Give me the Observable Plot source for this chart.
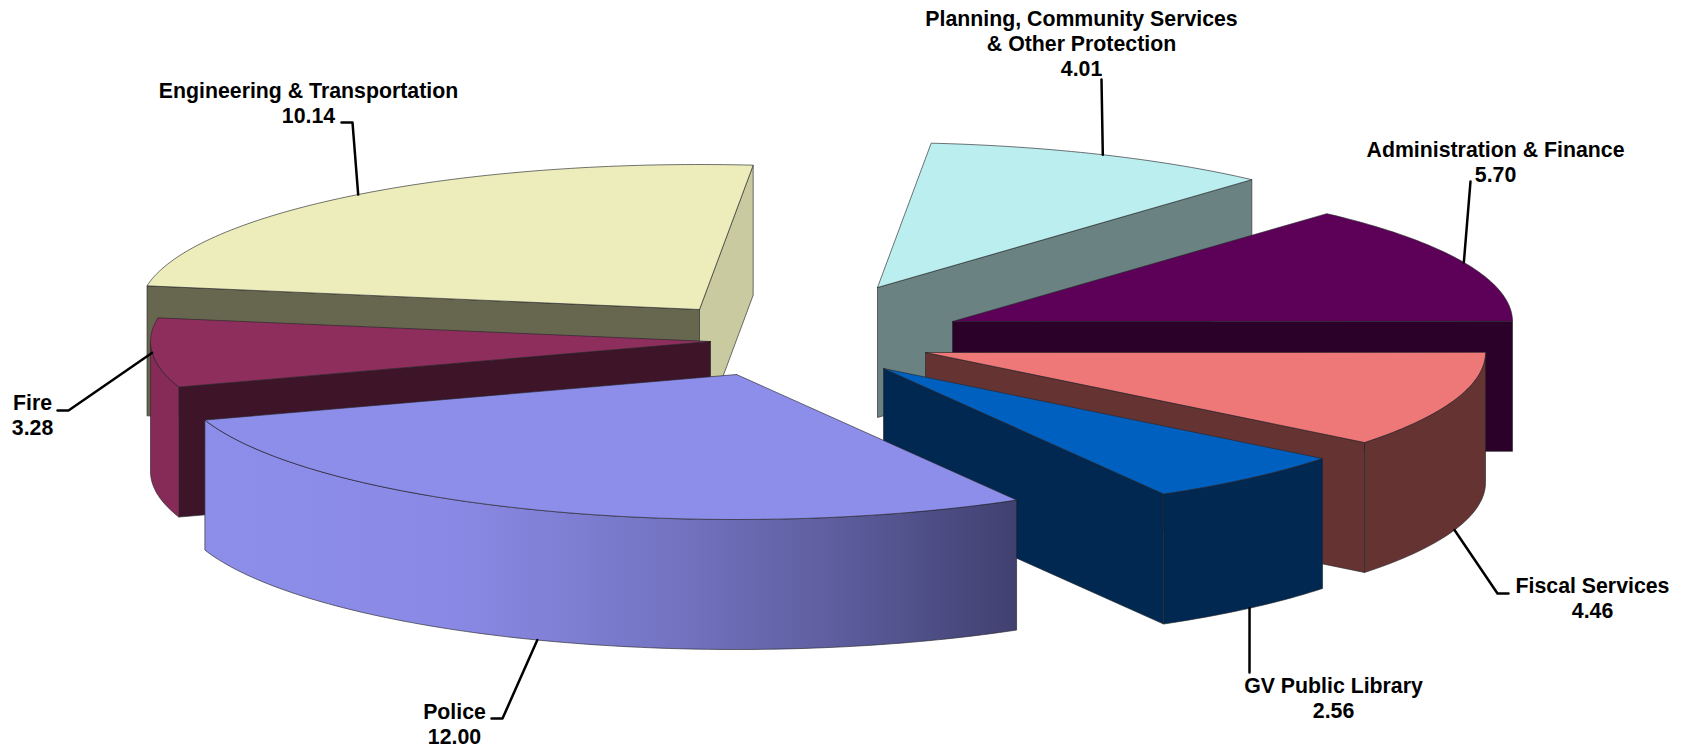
<!DOCTYPE html>
<html>
<head>
<meta charset="utf-8">
<script src="https://cdn.jsdelivr.net/npm/d3@7"></script>
<script src="https://cdn.jsdelivr.net/npm/@observablehq/plot@0.6"></script>
<style>
html,body{margin:0;padding:0;background:#fff}
svg{display:block}
</style>
</head>
<body>
<div id="chart"></div>
<script>
// ---- Data, clockwise from the top of the pie ----
const names = ["Planning, Community Services\n& Other Protection","Administration & Finance","Fiscal Services","GV Public Library","Police","Fire","Engineering & Transportation"];
const values = [4.01,5.70,4.46,2.56,12.00,3.28,10.14];

// ---- Styles ----
const topColors  = ["#bbeeee","#5c0058","#ee7777","#0060bf","#8d8dea","#8e2e5c","#ecedbb"];
const rimColors  = ["#6a8382","#2b0029","#663333","#002850","url(#policeRim)","#862b58","#676750"];
const cutColors  = ["#6a8382","#2b0029","#663333","#002850","#404070","#3e1428","#676750"];
const endColors  = ["#6a8382","#2b0029","#663333","#002850","#404070","#3e1428","#c9ca9f"];

// ---- Layout: exploded centre of every slice, pie shape, label placement ----
const centreX = [877,952,925,883,736,710,699];
const centreY = [287,321,352,368,374,341,309];
const radiusX = 560, radiusY = 145, thickness = 130, startAngle = 7;
const perspectiveNudge = [-1.5,0.7,0,0.35,0.1,-0.7,-1]; // degrees, at each slice's starting edge
const drawOrder = [6,0,1,5,2,3,4];
const labelX = [1081,1495,1592,1333,454,32,308];
const labelY = [75,181,617,717,743,434,122];
const leaderOnRim  = [false,false,true,true,true,false,false];
const leaderElbowX = [1101,1470,1497,1249,502,68,352];
const leaderElbowY = [79,181,593,672,718,410,122];
const leaderEndX   = [null,null,1508,null,491,57,341];
const leaderEndY   = [null,null,593,null,718,410,122];
const fontSize = 21.3, lineHeight = 1.16;

const rad = d => d * Math.PI / 180;
const total = d3.sum(values);
const edges = d3.cumsum([0,...values]).map((v,k) => startAngle + v/total*360 + perspectiveNudge[k % values.length]);
const slices = values.map((v,i) => ({i, a0: edges[i], a1: edges[i+1], mid: (edges[i]+edges[i+1])/2}));
const pt = (i,t,drop=0) => ({x: centreX[i] + radiusX*Math.sin(rad(t)), y: centreY[i] - radiusY*Math.cos(rad(t)) + drop});
const arc = (i,a0,a1,drop=0) => {
  const n = Math.max(2, Math.ceil(Math.abs(a1-a0)));
  return d3.range(n+1).map(k => pt(i, a0 + (a1-a0)*k/n, drop));
};
const apex = (i,drop=0) => ({x: centreX[i], y: centreY[i] + drop});
const face = (pts,fill) => Plot.line([...pts, pts[0]], {x:"x", y:"y", fill, stroke:"#26262a", strokeWidth:0.75, strokeOpacity:0.85, curve:"linear"});

const marks = [];
marks.push(() => {
  const defs = d3.create("svg:defs");
  const g = defs.append("linearGradient").attr("id","policeRim");
  [[0,"#8d8dea"],[0.3,"#8a8ae6"],[0.55,"#7676c6"],[0.78,"#5d5d9e"],[1,"#404070"]].forEach(([o,c]) =>
    g.append("stop").attr("offset",o).attr("stop-color",c));
  return defs.node();
});
for (const i of drawOrder) {
  const s = slices[i];
  if (Math.sin(rad(s.a0)) < 0) { // start wall faces the viewer
    marks.push(face([apex(i), pt(i,s.a0), pt(i,s.a0,thickness), apex(i,thickness)], cutColors[i]));
  }
  if (Math.sin(rad(s.a1)) > 0) { // end wall faces the viewer
    marks.push(face([apex(i), pt(i,s.a1), pt(i,s.a1,thickness), apex(i,thickness)], endColors[i]));
  }
  const r0 = Math.max(s.a0, 90), r1 = Math.min(s.a1, 270);
  if (r1 > r0) marks.push(face([...arc(i,r0,r1), ...arc(i,r1,r0,thickness)], rimColors[i]));
  marks.push(face([apex(i), ...arc(i,s.a0,s.a1)], topColors[i]));
}
// Leader lines start on the slice's own mid angle
const leaders = slices.flatMap(s => {
  const p = pt(s.i, s.mid, leaderOnRim[s.i] ? thickness : 0);
  const path = [p, {x:leaderElbowX[s.i], y:leaderElbowY[s.i]}];
  if (leaderEndX[s.i] != null) path.push({x:leaderEndX[s.i], y:leaderEndY[s.i]});
  return path.map(q => ({...q, id:s.i}));
});
marks.push(Plot.line(leaders, {x:"x", y:"y", z:"id", stroke:"#000", strokeWidth:2.5, curve:"linear"}));
marks.push(Plot.text(slices, {
  x: s => labelX[s.i], y: s => labelY[s.i],
  text: s => names[s.i] + "\n" + values[s.i].toFixed(2),
  textAnchor:"middle", lineAnchor:"bottom", lineHeight,
  fontFamily:"'Liberation Sans',Arial,sans-serif", fontWeight:"bold", fontSize, fill:"#000"
}));

const chart = Plot.plot({
  width:1687, height:747,
  margin:0,
  x:{domain:[0,1687], range:[0,1687], axis:null},
  y:{domain:[0,747], range:[0,747], axis:null},
  style:{background:"#fff", overflow:"visible"},
  marks
});
document.getElementById("chart").append(chart);
</script>
</body>
</html>
